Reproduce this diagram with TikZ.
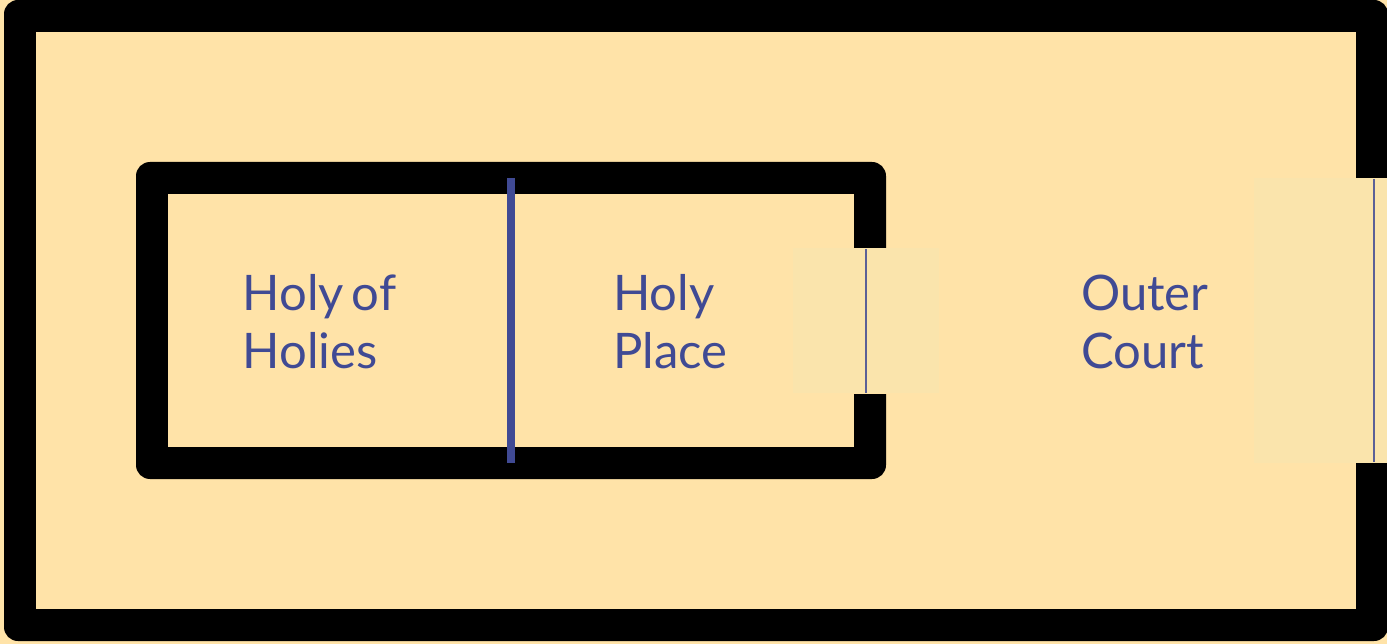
\documentclass[tikz,border=0pt]{standalone}
\usepackage{fontspec}
\setmainfont[WordSpace=0.62]{Lato}
\definecolor{sand}{HTML}{FFE3A8}
\definecolor{doorpale}{HTML}{FAE4AC}
\definecolor{ink}{HTML}{404A94}
\tikzset{
  room/.style={font=\fontsize{49}{58}\selectfont, text=ink, align=left, anchor=north west, inner sep=0pt},
  wall/.style={fill=black, draw=none, rounded corners=14pt},
  hollow/.style={fill=sand, draw=none},
  door/.style={fill=doorpale, draw=none},
  curtain/.style={draw=ink, line width=2pt, opacity=.85},
  veil/.style={draw=ink, line width=8pt}
}
\begin{document}
\begin{tikzpicture}[x=1pt,y=-1pt]
\useasboundingbox (0,0) rectangle (1387,644);
\fill[sand] (0,0) rectangle (1387,644);
% outer wall
\path[wall] (4,0) rectangle (1388,641);
\path[hollow] (36,32) rectangle (1356,609);
\path[hollow] (1340,178) rectangle (1390,463);
% inner wall
\path[wall] (136,162) rectangle (886,479);
\path[hollow] (168,194) rectangle (854,447);
\path[hollow] (840,248) rectangle (890,394);
% doors
\path[door] (793,248) rectangle (939,393);
\path[door] (1254,178) rectangle (1387,463);
\draw[curtain] (865.5,249) -- (865.5,393);
\draw[curtain] (1373.5,179) -- (1373.5,462);
\draw[veil] (511,178) -- (511,463);
% labels
\node[room] (hh) at (242.5,274.7) {Holy of\\Holies};
\node[room] (hp) at (613,274.7) {Holy\\Place};
\node[room] (oc) at (1081,274.7) {Outer\\Court};
\end{tikzpicture}
\end{document}
